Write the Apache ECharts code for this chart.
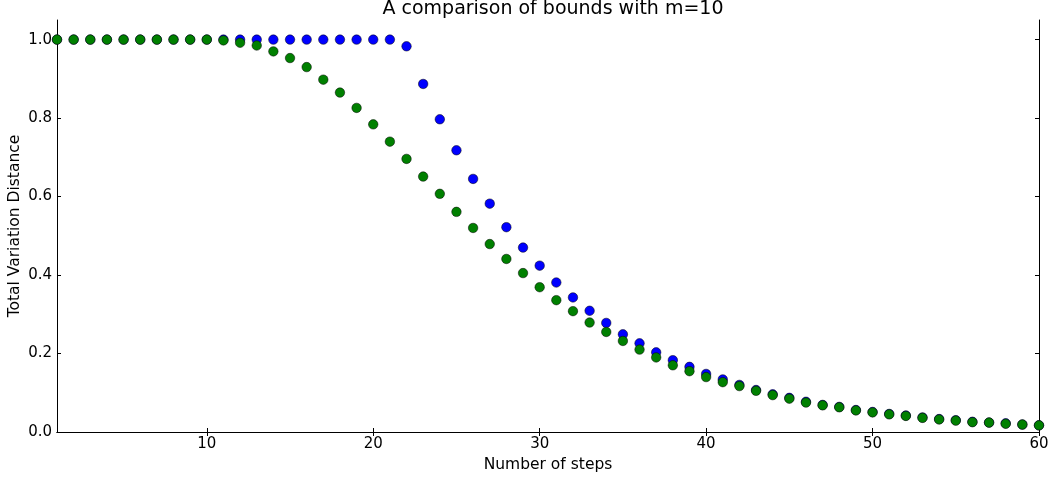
<!DOCTYPE html>
<html>
<head>
<meta charset="utf-8">
<script src="https://cdn.jsdelivr.net/npm/echarts@6/dist/echarts.min.js"></script>
<style>
  html, body { margin: 0; padding: 0; background: #fff; }
  #chart { width: 1050px; height: 477px; }
</style>
</head>
<body>
<div id="chart"></div>
<script>
// steps 1..60
const steps = [];
for (let i = 1; i <= 60; i++) steps.push(i);

// blue bound (drawn first, green on top)
const blueBound = [
  1.0, 1.0, 1.0, 1.0, 1.0, 1.0, 1.0, 1.0, 1.0, 1.0,
  1.0, 1.0, 1.0, 1.0, 1.0, 1.0, 1.0, 1.0, 1.0, 1.0,
  1.0, 0.983, 0.887, 0.797, 0.718, 0.645, 0.582, 0.522, 0.470, 0.424,
  0.381, 0.343, 0.309, 0.278, 0.249, 0.226, 0.203, 0.183, 0.166, 0.148,
  0.134, 0.120, 0.107, 0.096, 0.087, 0.077, 0.069, 0.064, 0.056, 0.051,
  0.046, 0.042, 0.037, 0.033, 0.030, 0.026, 0.024, 0.022, 0.019, 0.017
];

// green bound
const greenBound = [
  1.0, 1.0, 1.0, 1.0, 1.0, 1.0, 1.0, 1.0, 1.0, 1.0,
  0.998, 0.992, 0.985, 0.970, 0.953, 0.930, 0.898, 0.865, 0.826, 0.784,
  0.740, 0.696, 0.651, 0.607, 0.561, 0.520, 0.479, 0.441, 0.405, 0.369,
  0.336, 0.308, 0.279, 0.255, 0.232, 0.210, 0.190, 0.170, 0.155, 0.140,
  0.127, 0.117, 0.105, 0.094, 0.085, 0.075, 0.068, 0.063, 0.055, 0.050,
  0.045, 0.041, 0.036, 0.032, 0.029, 0.025, 0.024, 0.021, 0.019, 0.017
];

const xTicks = [10, 20, 30, 40, 50, 60];
const yTicks = [0, 0.2, 0.4, 0.6, 0.8, 1.0];

const font = "'DejaVu Sans', sans-serif";
const frame = { show: true, lineStyle: { color: '#000', width: 1 } };
const tick = (vals) => ({ show: true, inside: true, length: 4, customValues: vals, lineStyle: { color: '#000' } });

const chart = echarts.init(document.getElementById('chart'));

const pairs = (ys) => steps.map((x, i) => [x, ys[i]]);

chart.setOption({
  animation: false,
  backgroundColor: '#fff',
  title: {
    text: 'A comparison of bounds with m=10',
    left: 548,
    textAlign: 'center',
    top: -5,
    textStyle: { fontFamily: font, fontSize: 19, fontWeight: 'normal', color: '#000' }
  },
  grid: { left: 57, right: 11, top: 20, bottom: 45, outerBoundsMode: 'none', containLabel: false },
  xAxis: [
    {
      type: 'value', min: 1, max: 60,
      name: 'Number of steps', nameLocation: 'middle', nameGap: 23,
      nameTextStyle: { fontFamily: font, fontSize: 15.5, color: '#000' },
      axisLine: frame,
      axisTick: tick(xTicks),
      axisLabel: { customValues: xTicks, fontFamily: font, fontSize: 15, color: '#000', margin: 5 },
      splitLine: { show: false }
    },
    {
      type: 'value', min: 1, max: 60, position: 'top',
      axisLine: frame,
      axisTick: tick(xTicks),
      axisLabel: { show: false },
      splitLine: { show: false }
    }
  ],
  yAxis: [
    {
      type: 'value', min: 0, max: 1.05,
      name: 'Total Variation Distance', nameLocation: 'middle', nameGap: 34,
      nameMoveOverlap: false,
      nameTextStyle: { fontFamily: font, fontSize: 15.5, color: '#000' },
      axisLine: frame,
      axisTick: tick(yTicks),
      axisLabel: {
        customValues: yTicks, fontFamily: font, fontSize: 15, color: '#000', margin: 5,
        formatter: (v) => v.toFixed(1)
      },
      splitLine: { show: false }
    },
    {
      type: 'value', min: 0, max: 1.05, position: 'right',
      axisLine: frame,
      axisTick: tick(yTicks),
      axisLabel: { show: false },
      splitLine: { show: false }
    }
  ],
  series: [
    {
      type: 'scatter', data: pairs(blueBound), symbolSize: 9.5,
      itemStyle: { color: '#0000ff', borderColor: '#000', borderWidth: 0.5, opacity: 1 }
    },
    {
      type: 'scatter', data: pairs(greenBound), symbolSize: 9.5,
      itemStyle: { color: '#008000', borderColor: '#000', borderWidth: 0.5, opacity: 1 }
    }
  ]
});
</script>
</body>
</html>
